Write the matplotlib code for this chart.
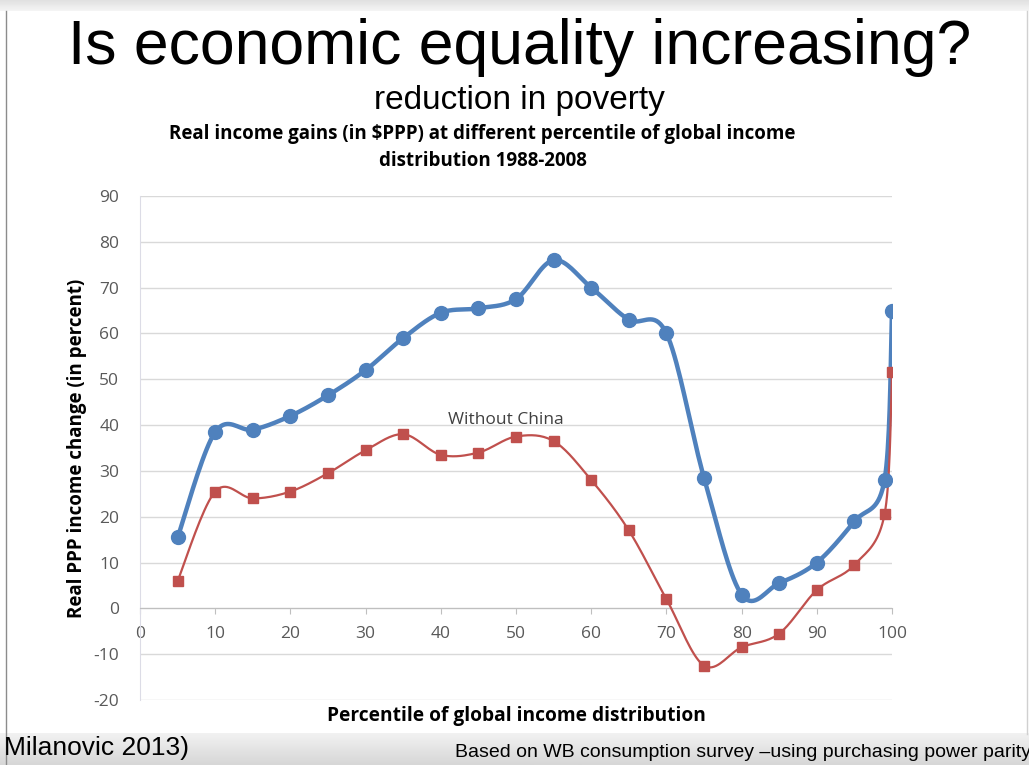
import matplotlib
matplotlib.use("Agg")
import matplotlib.pyplot as plt
from matplotlib.lines import Line2D
import numpy as np

plt.rcParams["axes.unicode_minus"] = False

percentile = [5, 10, 15, 20, 25, 30, 35, 40, 45, 50, 55, 60, 65, 70, 75, 80, 85, 90, 95, 99, 100]
all_world = [15.5, 38.5, 39, 42, 46.5, 52, 59, 64.5, 65.5, 67.5, 76, 70, 63, 60, 28.5,
             3, 5.5, 10, 19, 28, 65]
without_china = [6, 25.5, 24, 25.5, 29.5, 34.5, 38, 33.5, 34, 37.5, 36.5, 28, 17, 2, -12.5,
                 -8.5, -5.5, 4, 9.5, 20.5, 51.5]

BLUE = "#4F81BD"
RED = "#C0504D"
NARROW = ["Liberation Sans Narrow", "Liberation Sans", "DejaVu Sans"]
BODY = ["Open Sans", "DejaVu Sans"]


def smooth(xs, ys, steps=20):
    # Catmull-Rom style curve through the points, like a spreadsheet "smoothed line"
    xs = np.asarray(xs, float)
    ys = np.asarray(ys, float)
    px = np.concatenate([[xs[0]], xs, [xs[-1]]])
    py = np.concatenate([[ys[0]], ys, [ys[-1]]])
    out_x, out_y = [], []
    for i in range(1, len(px) - 2):
        p0 = np.array([px[i - 1], py[i - 1]])
        p1 = np.array([px[i], py[i]])
        p2 = np.array([px[i + 1], py[i + 1]])
        p3 = np.array([px[i + 2], py[i + 2]])
        c1 = p1 + (p2 - p0) / 6.0
        c2 = p2 - (p3 - p1) / 6.0
        t = np.linspace(0, 1, steps)[:, None]
        pts = ((1 - t) ** 3) * p1 + 3 * ((1 - t) ** 2) * t * c1 + 3 * (1 - t) * t ** 2 * c2 + t ** 3 * p2
        out_x.extend(pts[:, 0])
        out_y.extend(pts[:, 1])
    return out_x, out_y


fig = plt.figure(figsize=(10.29, 7.65), dpi=100)

# slide frame: grey gradient bands at top and bottom, thin edge lines
bottom_band = fig.add_axes([0, 0, 1, 0.042], zorder=-5)
bottom_band.imshow(np.linspace(0.95, 0.84, 50)[:, None], cmap="gray", vmin=0, vmax=1,
                   aspect="auto", extent=[0, 1, 0, 1])
bottom_band.axis("off")
top_band = fig.add_axes([0, 0.986, 1, 0.014], zorder=-5)
top_band.imshow(np.linspace(0.88, 0.96, 20)[:, None], cmap="gray", vmin=0, vmax=1,
                aspect="auto", extent=[0, 1, 0, 1])
top_band.axis("off")
fig.add_artist(Line2D([0.006, 0.006], [0, 0.986], color="#8C8C8C", linewidth=1))
fig.add_artist(Line2D([0.998, 0.998], [0.04, 0.986], color="#D0D0D0", linewidth=1))

ax = fig.add_axes([0.1361, 0.085, 0.7308, 0.6588])

ax.set_xlim(0, 100)
ax.set_ylim(-20, 90)
ax.set_yticks(range(-20, 91, 10))
ax.set_xticks(range(0, 101, 10))
ax.grid(axis="y", color="#D9D9D9", linewidth=1)
ax.set_axisbelow(True)
for side in ("top", "right"):
    ax.spines[side].set_visible(False)
ax.spines["left"].set_color("#DCDCE6")
ax.spines["bottom"].set_position(("data", 0))
ax.spines["bottom"].set_color("#BFBFBF")
ax.tick_params(axis="y", length=0, labelsize=12.5, labelcolor="#595959", pad=15)
ax.tick_params(axis="x", length=4, color="#BFBFBF", labelsize=12.5, labelcolor="#595959", pad=9)
for lab in ax.get_xticklabels() + ax.get_yticklabels():
    lab.set_family(BODY)

sx, sy = smooth(percentile, all_world)
ax.plot(sx, sy, color=BLUE, linewidth=3.2, solid_capstyle="round", zorder=3)
ax.plot(percentile, all_world, "o", color=BLUE, markersize=10, zorder=4)

rx, ry = smooth(percentile, without_china)
ax.plot(rx, ry, color=RED, linewidth=1.6, zorder=3)
ax.plot(percentile, without_china, "s", color=RED, markersize=6.5, zorder=4)

ax.text(48.6, 41, "Without China", ha="center", va="center", fontsize=12.5,
        color="#404040", family=BODY)

ax.set_ylabel("Real PPP income change (in percent)", fontsize=13.5, fontweight="bold",
              family=BODY, labelpad=5)
ax.set_xlabel("Percentile of global income distribution", fontsize=13.8, fontweight="bold",
              family=BODY)
ax.xaxis.set_label_coords(0.5, -0.012, transform=ax.transAxes)
ax.xaxis.label.set_va("top")

fig.text(0.505, 0.938, "Is economic equality increasing?", ha="center", va="center",
         fontsize=45, family=NARROW)
fig.text(0.505, 0.868, "reduction in poverty", ha="center", va="center",
         fontsize=24, family=NARROW)
fig.text(0.469, 0.825, "Real income gains (in $PPP) at different percentile of global income",
         ha="center", va="center", fontsize=13.5, fontweight="bold", family=BODY)
fig.text(0.469, 0.789, "distribution 1988-2008", ha="center", va="center",
         fontsize=13.5, fontweight="bold", family=BODY)
fig.text(0.004, 0.022, "Milanovic 2013)", ha="left", va="center", fontsize=19, family=NARROW)
fig.text(0.442, 0.016, "Based on WB consumption survey \u2013using purchasing power parity",
         ha="left", va="center", fontsize=14, family=NARROW)

fig.savefig("out.png", dpi=100)
